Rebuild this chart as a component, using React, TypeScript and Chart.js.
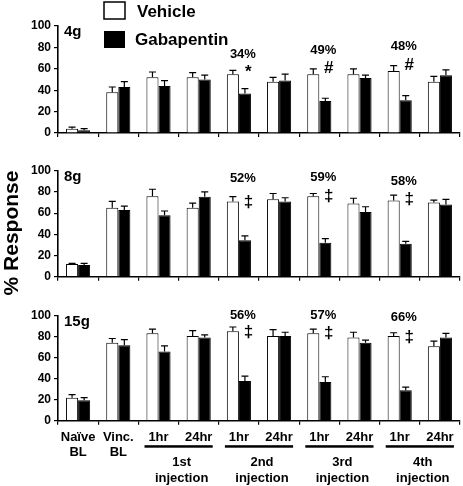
import React, { useEffect, useRef } from "react";
import { Chart, registerables } from "chart.js";
Chart.register(...registerables);

const FONT = "'Liberation Sans', Arial, Helvetica, sans-serif";

const categories: (string | string[])[] = [["Naïve", "BL"], ["Vinc.", "BL"], "1hr", "24hr", "1hr", "24hr", "1hr", "24hr", "1hr", "24hr"];
const injectionLabels = ["1st", "2nd", "3rd", "4th"];
const injectionStart = [2, 4, 6, 8];
const yTicks = [0, 20, 40, 60, 80, 100];

// 4g
const vehicle4 = [4, 38, 52, 52, 55, 48, 55, 55, 58, 48];
const vehicleErr4 = [1.5, 5, 5, 4.5, 3.5, 4, 5, 5, 5, 5];
const gaba4 = [2.5, 43, 44, 50, 37, 49, 30, 51.5, 30.5, 54];
const gabaErr4 = [1.5, 5, 5, 4, 4.5, 6, 2.5, 2.5, 4.5, 5];
const annIdx4 = [4, 6, 8];
const annPct4 = ["34%", "49%", "48%"];
const annPctY4 = [73, 77, 81];
const annSym4 = ["*", "#", "#"];
const annSymY4 = [57, 60, 63];

// 8g
const vehicle8 = [12, 65, 76, 65, 71, 73, 76, 69, 72, 70];
const vehicleErr8 = [0.5, 6, 6.5, 4.5, 4.5, 5.5, 2.5, 5, 5, 2.3];
const gaba8 = [11, 63, 58, 75.5, 34.5, 71, 32, 61, 31, 68];
const gabaErr8 = [1.5, 3.5, 4, 4.5, 4, 3.5, 4, 5, 2.3, 5];
const annIdx8 = [4, 6, 8];
const annPct8 = ["52%", "59%", "58%"];
const annPctY8 = [93, 94, 90];
const annSym8 = ["‡", "‡", "‡"];
const annSymY8 = [70, 75.5, 73];

// 15g
const vehicle15 = [22, 74.5, 83.5, 81, 85.5, 81, 83.5, 79.5, 81, 71];
const vehicleErr15 = [3, 4, 4, 5, 4, 6, 4, 5, 3, 5];
const gaba15 = [19.5, 72, 66, 79.5, 38, 81, 37, 74.5, 29, 79.5];
const gabaErr15 = [2.5, 5.5, 5.5, 2.5, 4.5, 3.5, 5, 2.5, 3, 4];
const annIdx15 = [4, 6, 8];
const annPct15 = ["56%", "57%", "66%"];
const annPctY15 = [101, 101, 99];
const annSym15 = ["‡", "‡", "‡"];
const annSymY15 = [84.5, 83.5, 80];

type Panel = {
  label: string;
  vehicle: number[]; vehicleErr: number[];
  gaba: number[]; gabaErr: number[];
  annIdx: number[]; annPct: string[]; annPctY: number[]; annSym: string[]; annSymY: number[];
  top: number; height: number; padTop: number; xHeight: number; showX: boolean;
  legend?: boolean; yTitle?: boolean;
};

const panels: Panel[] = [
  { label: "4g", vehicle: vehicle4, vehicleErr: vehicleErr4, gaba: gaba4, gabaErr: gabaErr4,
    annIdx: annIdx4, annPct: annPct4, annPctY: annPctY4, annSym: annSym4, annSymY: annSymY4,
    top: 0, height: 145, padTop: 26, xHeight: 12, showX: false, legend: true },
  { label: "8g", vehicle: vehicle8, vehicleErr: vehicleErr8, gaba: gaba8, gabaErr: gabaErr8,
    annIdx: annIdx8, annPct: annPct8, annPctY: annPctY8, annSym: annSym8, annSymY: annSymY8,
    top: 145, height: 160, padTop: 25.7, xHeight: 28.3, showX: false, yTitle: true },
  { label: "15g", vehicle: vehicle15, vehicleErr: vehicleErr15, gaba: gaba15, gabaErr: gabaErr15,
    annIdx: annIdx15, annPct: annPct15, annPctY: annPctY15, annSym: annSym15, annSymY: annSymY15,
    top: 290, height: 196, padTop: 26, xHeight: 65.3, showX: true },
];

const errorBarPlugin = {
  id: "errorBars",
  afterDatasetsDraw(chart: any) {
    const ctx = chart.ctx;
    const yScale = chart.scales.y;
    ctx.save();
    ctx.strokeStyle = "#000";
    ctx.lineWidth = 1.2;
    chart.data.datasets.forEach((ds: any, i: number) => {
      const meta = chart.getDatasetMeta(i);
      meta.data.forEach((el: any, j: number) => {
        const v = ds.data[j];
        const e = ds.errors[j];
        const yTop = yScale.getPixelForValue(v + e);
        ctx.beginPath();
        ctx.moveTo(el.x, el.y);
        ctx.lineTo(el.x, yTop);
        ctx.moveTo(el.x - 3.5, yTop);
        ctx.lineTo(el.x + 3.5, yTop);
        ctx.stroke();
      });
    });
    ctx.restore();
  },
};

function makeAnnotPlugin(p: Panel) {
  return {
    id: "annot",
    afterDraw(chart: any) {
      const ctx = chart.ctx;
      const xs = chart.scales.x;
      const ys = chart.scales.y;
      const area = chart.chartArea;
      ctx.save();
      ctx.fillStyle = "#000";
      ctx.textBaseline = "middle";
      ctx.textAlign = "left";
      ctx.font = `bold 15px ${FONT}`;
      ctx.fillText(p.label, area.left + 6, area.top + 6);
      ctx.textAlign = "center";
      p.annIdx.forEach((idx, k) => {
        const cx = xs.getPixelForValue(idx);
        ctx.font = `bold 13px ${FONT}`;
        ctx.fillText(p.annPct[k], cx + 4, ys.getPixelForValue(p.annPctY[k]));
        ctx.font = `bold 17px ${FONT}`;
        ctx.fillText(p.annSym[k], cx + 9.5, ys.getPixelForValue(p.annSymY[k]));
      });
      if (p.legend) {
        ctx.lineWidth = 1.5;
        ctx.strokeStyle = "#000";
        ctx.fillStyle = "#fff";
        ctx.fillRect(104, 2, 21, 17);
        ctx.strokeRect(104, 2, 21, 17);
        ctx.fillStyle = "#000";
        ctx.fillRect(104, 31, 21, 17);
        ctx.font = `bold 17px ${FONT}`;
        ctx.textAlign = "left";
        ctx.fillText("Vehicle", 137, 12);
        ctx.fillText("Gabapentin", 135, 40);
      }
      if (p.yTitle) {
        ctx.save();
        ctx.translate(12, 233 - p.top);
        ctx.rotate(-Math.PI / 2);
        ctx.textAlign = "center";
        ctx.textBaseline = "middle";
        ctx.font = `bold 21px ${FONT}`;
        ctx.fillText("% Response", 0, 0);
        ctx.restore();
      }
      if (p.showX) {
        const b = area.bottom;
        injectionStart.forEach((s, k) => {
          const x1 = xs.getPixelForValue(s) - 14;
          const x2 = xs.getPixelForValue(s + 1) + 14;
          ctx.fillRect(x1, b + 24.5, x2 - x1, 2.5);
          const cx = (x1 + x2) / 2 + 3;
          ctx.textAlign = "center";
          ctx.font = `bold 13px ${FONT}`;
          ctx.fillText(injectionLabels[k], cx, b + 41.5);
          ctx.fillText("injection", cx, b + 57.5);
        });
      }
      ctx.restore();
    },
  };
}

function PanelChart({ p }: { p: Panel }) {
  const ref = useRef<HTMLCanvasElement | null>(null);
  useEffect(() => {
    if (!ref.current) return;
    const chart = new Chart(ref.current, {
      type: "bar",
      data: {
        labels: categories,
        datasets: [
          { label: "Vehicle", data: p.vehicle, errors: p.vehicleErr, backgroundColor: "#fff", borderColor: "#000", borderWidth: 1, categoryPercentage: 0.6, barPercentage: 1.0 } as any,
          { label: "Gabapentin", data: p.gaba, errors: p.gabaErr, backgroundColor: "#000", borderColor: "#000", borderWidth: 1, categoryPercentage: 0.6, barPercentage: 1.0 } as any,
        ],
      },
      options: {
        responsive: false,
        animation: false,
        devicePixelRatio: 1,
        layout: { padding: { top: p.padTop, right: 3, left: 0, bottom: 0 } },
        plugins: { legend: { display: false }, tooltip: { enabled: false }, title: { display: false } },
        scales: {
          x: {
            offset: true,
            grid: { display: true, drawOnChartArea: false, drawTicks: true, tickLength: 4, color: "#000", offset: true, lineWidth: 1.2 },
            border: { display: true, color: "#000", width: 1.6 },
            ticks: { display: p.showX, color: "#000", font: { family: FONT, size: 13, weight: "bold", lineHeight: 1.1 }, padding: 6, maxRotation: 0, autoSkip: false },
            afterFit: (s: any) => { s.height = p.xHeight; },
          },
          y: {
            min: 0, max: 100,
            afterBuildTicks: (s: any) => { s.ticks = yTicks.map((v) => ({ value: v })); },
            grid: { display: true, drawOnChartArea: false, drawTicks: true, tickLength: 4, color: "#000", lineWidth: 1.2 },
            border: { display: true, color: "#000", width: 1.6 },
            ticks: { color: "#000", font: { family: FONT, size: 12, weight: "bold" }, padding: 3 },
            afterFit: (s: any) => { s.width = 58; },
          },
        },
      } as any,
      plugins: [errorBarPlugin, makeAnnotPlugin(p)],
    });
    return () => chart.destroy();
  }, [p]);
  return (
    <canvas ref={ref} width={463} height={p.height}
      style={{ position: "absolute", left: 0, top: p.top, width: 463, height: p.height }} />
  );
}

export default function App() {
  useEffect(() => {
    document.body.style.margin = "0";
    document.body.style.background = "#fff";
  }, []);
  return (
    <div style={{ position: "relative", width: 463, height: 486, background: "#fff", overflow: "hidden" }}>
      {panels.map((p, i) => <PanelChart key={i} p={p} />)}
    </div>
  );
}
